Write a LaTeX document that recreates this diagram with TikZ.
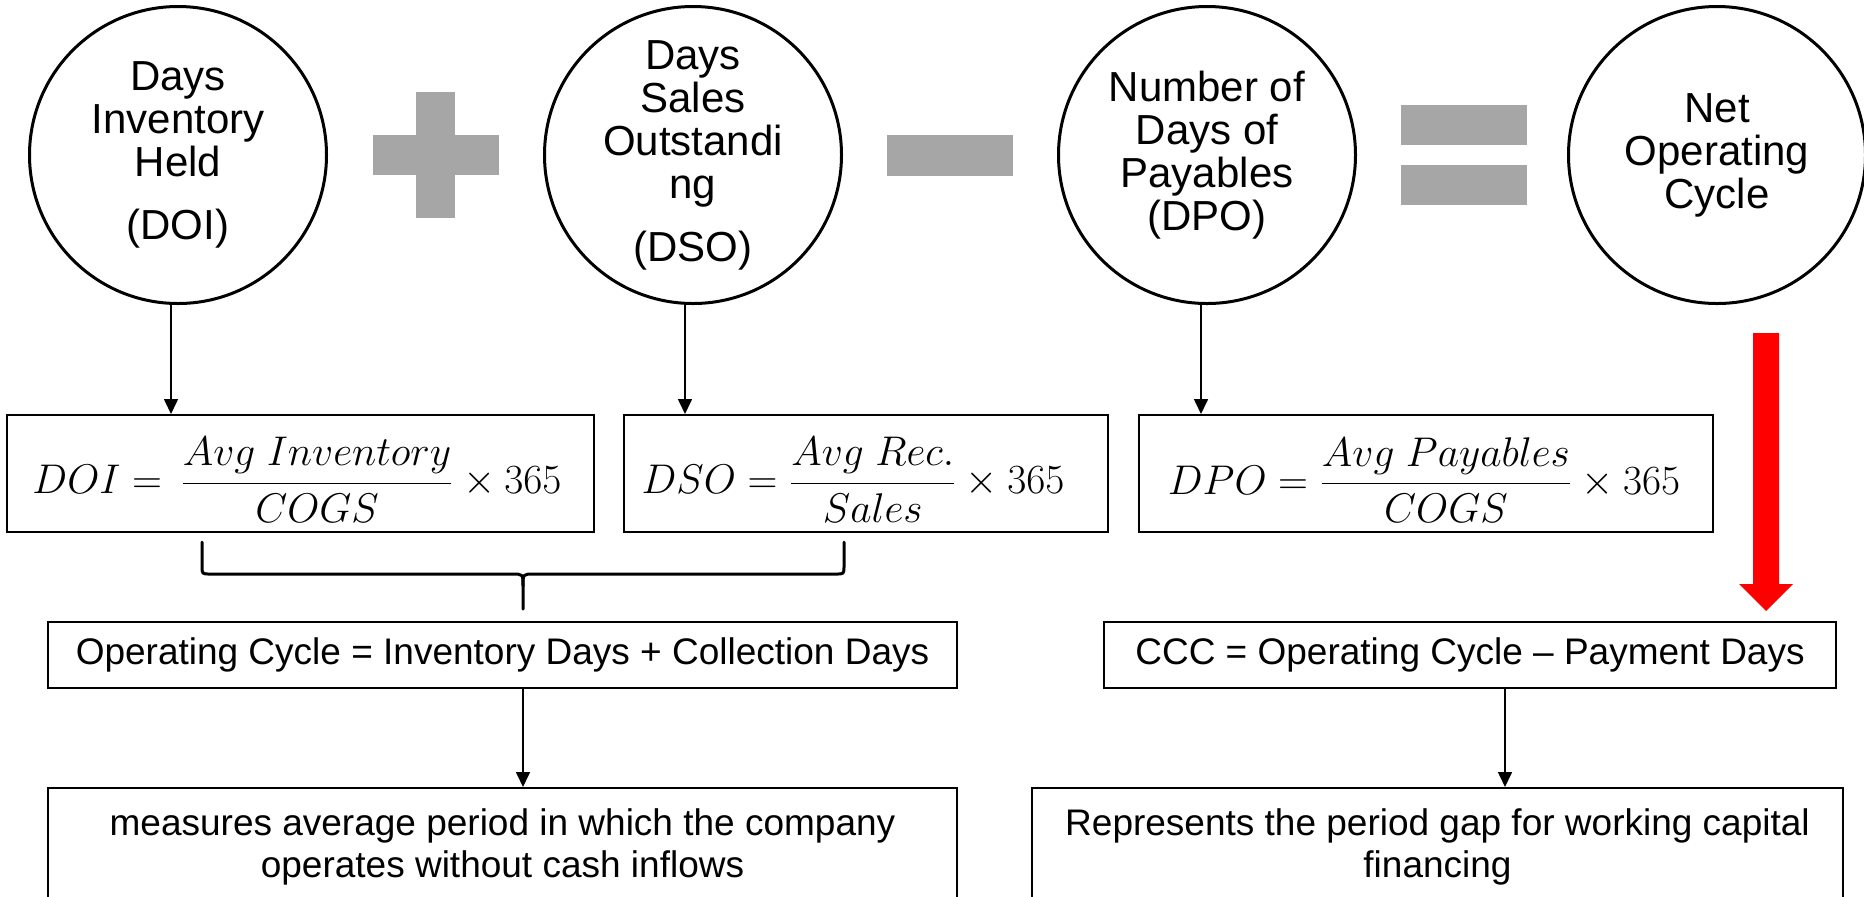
\documentclass[tikz,border=0pt]{standalone}
\usepackage[no-math]{fontspec}
\setmainfont{Liberation Sans}
\usetikzlibrary{arrows.meta}
\definecolor{opgray}{RGB}{166,166,166}
\definecolor{flowred}{RGB}{255,0,0}
\begin{document}
\begin{tikzpicture}[x=0.5pt,y=-0.5pt,
  bubble/.style={circle,draw,line width=1.5pt,minimum size=148.5pt,inner sep=0pt,
    align=center,font=\fontsize{21pt}{21.5pt}\selectfont},
  formbox/.style={draw,line width=1pt,minimum height=58.5pt,inner sep=0pt},
  formula/.style={inner sep=0pt,font=\fontsize{20.74pt}{24pt}\selectfont},
  textbox/.style={draw,line width=1pt,inner sep=0pt,align=center,
    font=\fontsize{18.5pt}{21pt}\selectfont},
  arr/.style={line width=0.8pt,-{Triangle[width=7pt,length=7.5pt]}},
  bracepath/.style={line width=1.5pt,line cap=round,line join=round}]
\useasboundingbox (0,0) rectangle (1864,896);
\clip (0,0) rectangle (1864,896);

% the four components of the cycle
\node[bubble] (doi) at (178,155) {Days\\Inventory\\Held\\[10pt](DOI)};
\node[bubble] (dso) at (693,155) {Days\\Sales\\Outstandi\\ng\\[10pt](DSO)};
\node[bubble] (dpo) at (1207,155) {Number of\\Days of\\Payables\\(DPO)};
\node[bubble] (noc) at (1717,155) {Net\\Operating\\Cycle};

% operators between them
\fill[opgray] (373,135) rectangle (499,175);
\fill[opgray] (416,92) rectangle (455,218);
\fill[opgray] (887,135) rectangle (1013,176);
\fill[opgray] (1401,105) rectangle (1527,145);
\fill[opgray] (1401,165) rectangle (1527,205);

% formula boxes
\node[formbox,minimum width=293.5pt] (fdoi) at (300.5,473.5) {};
\node[formula] at (297,480) {$\displaystyle DOI =\,\frac{Avg\ Inventory}{COGS}\times 365$};
\node[formbox,minimum width=242pt] (fdso) at (866,473.5) {};
\node[formula] at (853,480) {$\displaystyle DSO = \frac{Avg\ Rec.}{Sales}\times 365$};
\node[formbox,minimum width=287pt] (fdpo) at (1426,473.5) {};
\node[formula] at (1424,480) {$\displaystyle DPO = \frac{Avg\ Payables}{COGS}\times 365$};

\draw[arr] ([xshift=-3.5pt]doi.south) -- ([xshift=-3.5pt]doi.south |- fdoi.north);
\draw[arr] ([xshift=-4pt]dso.south) -- ([xshift=-4pt]dso.south |- fdso.north);
\draw[arr] ([xshift=-3pt]dpo.south) -- ([xshift=-3pt]dpo.south |- fdpo.north);

% brace joining DOI and DSO
\coordinate (tip) at (523,609);
\draw[bracepath] (202,542) -- (202,566) .. controls (202,574) .. (210,574) -- (512,574)
  .. controls (523,574) .. (523,586) -- (tip);
\draw[bracepath] (844,542) -- (844,566) .. controls (844,574) .. (836,574) -- (534,574)
  .. controls (523,574) .. (523,586);

% result boxes
\node[textbox,minimum width=454.5pt,minimum height=33pt] (opc) at (502.5,655)
  {Operating Cycle = Inventory Days + Collection Days};
\node[textbox,minimum width=366pt,minimum height=33pt] (ccc) at (1470,655)
  {CCC = Operating Cycle -- Payment Days};
\node[textbox,minimum width=454.5pt,minimum height=59pt] (mea) at (502.5,847)
  {measures average period in which the company\\operates without cash inflows};
\node[textbox,minimum width=405.5pt,minimum height=59pt] (rep) at (1437.5,847)
  {Represents the period gap for working capital\\financing};

\draw[arr] (opc.south -| tip) -- (mea.north -| tip);
\draw[arr] ([xshift=17.5pt]ccc.south) -- ([xshift=17.5pt]ccc.south |- rep.north);

% block arrow from the net operating cycle down to the CCC box
\fill[flowred] (1753,333) -- (1779,333) -- (1779,584) -- (1793,584) -- (1766,611)
  -- (1739,584) -- (1753,584) -- cycle;
\end{tikzpicture}
\end{document}
